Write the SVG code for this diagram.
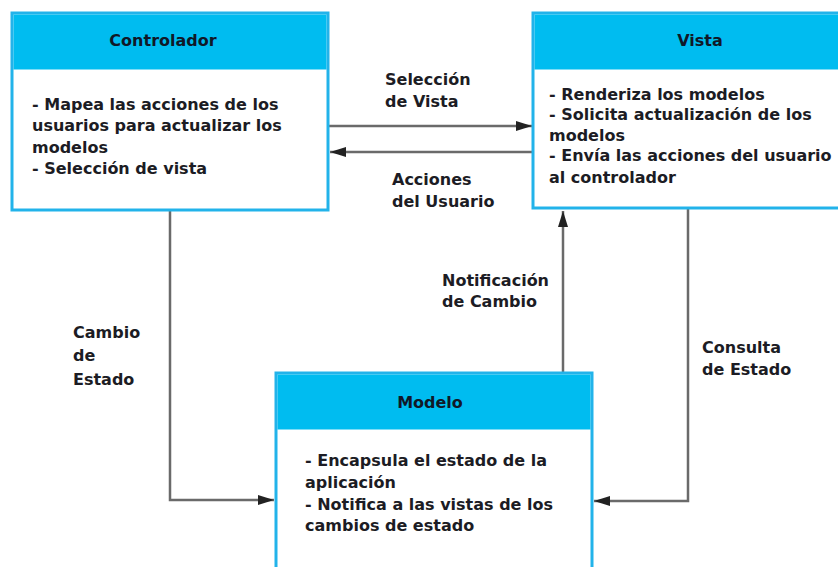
<svg xmlns="http://www.w3.org/2000/svg" width="838" height="567" viewBox="0 0 838 567">
<style>
.box{fill:#ffffff;stroke:#22b3ea;stroke-width:3}
.hdr{fill:#00bcf0}
.title{font-family:"DejaVu Sans",Verdana,sans-serif;font-weight:bold;font-size:16px;fill:#101828;text-anchor:middle}
.txt{font-family:"DejaVu Sans",Verdana,sans-serif;font-weight:bold;font-size:16px;fill:#1c1c24}
.con{fill:none;stroke:#6a6a6a;stroke-width:2.5}
</style>
<defs>
<marker id="ah" viewBox="0 0 16 10" refX="16" refY="5" markerWidth="16" markerHeight="10" orient="auto" markerUnits="userSpaceOnUse">
<path d="M0,0 L16,5 L0,10 z" fill="#222"/>
</marker>
</defs>
<rect width="838" height="567" fill="#ffffff"/>
<g id="connectors">
<line class="con" x1="329" y1="126" x2="532" y2="126" marker-end="url(#ah)"/>
<line class="con" x1="533" y1="152" x2="330" y2="152" marker-end="url(#ah)"/>
<polyline class="con" points="170,210 170,500 274,500" marker-end="url(#ah)"/>
<line class="con" x1="563" y1="372" x2="563" y2="211" marker-end="url(#ah)"/>
<polyline class="con" points="688,208 688,501 594,501" marker-end="url(#ah)"/>
<text class="txt" x="385" y="85">Selección</text>
<text class="txt" x="385" y="107">de Vista</text>
<text class="txt" x="392" y="185">Acciones</text>
<text class="txt" x="392" y="207">del Usuario</text>
<text class="txt" x="442" y="286">Notificación</text>
<text class="txt" x="442" y="307">de Cambio</text>
<text class="txt" x="73" y="338">Cambio</text>
<text class="txt" x="73" y="361">de</text>
<text class="txt" x="73" y="385">Estado</text>
<text class="txt" x="702" y="353">Consulta</text>
<text class="txt" x="702" y="375">de Estado</text>
</g>
<g id="controlador">
<rect class="box" x="12" y="13" width="316" height="197"/>
<rect class="hdr" x="13.5" y="14.5" width="313" height="55"/>
<text class="title" x="163" y="46">Controlador</text>
<text class="txt" x="32" y="110">- Mapea las acciones de los</text>
<text class="txt" x="32" y="131">usuarios para actualizar los</text>
<text class="txt" x="32" y="153">modelos</text>
<text class="txt" x="32" y="174">- Selección de vista</text>
</g>
<g id="vista">
<rect class="box" x="533" y="13" width="320" height="195"/>
<rect class="hdr" x="534.5" y="14.5" width="317" height="55"/>
<text class="title" x="700" y="46">Vista</text>
<text class="txt" x="549" y="100">- Renderiza los modelos</text>
<text class="txt" x="549" y="120">- Solicita actualización de los</text>
<text class="txt" x="549" y="141">modelos</text>
<text class="txt" x="549" y="161">- Envía las acciones del usuario</text>
<text class="txt" x="549" y="183">al controlador</text>
</g>
<g id="modelo">
<rect class="box" x="276" y="373" width="316" height="210"/>
<rect class="hdr" x="277.5" y="374.5" width="313" height="55"/>
<text class="title" x="430" y="408">Modelo</text>
<text class="txt" x="305" y="466">- Encapsula el estado de la</text>
<text class="txt" x="305" y="488">aplicación</text>
<text class="txt" x="305" y="510">- Notifica a las vistas de los</text>
<text class="txt" x="305" y="531">cambios de estado</text>
</g>
</svg>
